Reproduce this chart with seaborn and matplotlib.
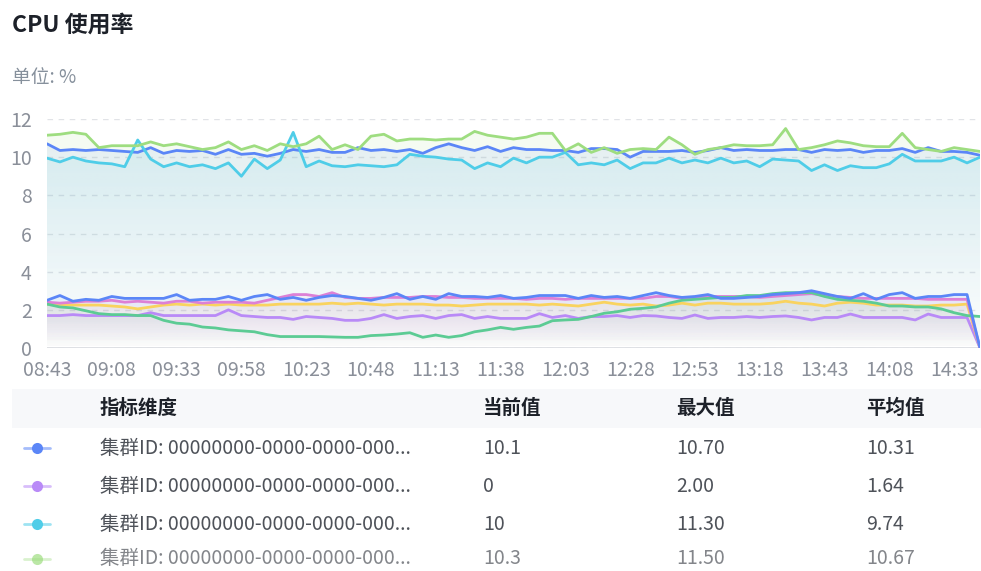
import numpy as np
import pandas as pd
import matplotlib
matplotlib.use("Agg")
import matplotlib.pyplot as plt
import matplotlib.dates as mdates
from matplotlib.colors import to_rgb
from matplotlib.patches import Polygon, Rectangle
from matplotlib.lines import Line2D
import seaborn as sns

# ---- time axis: one sample every 5 minutes ----
start_time = "2024-05-20 08:43"
n_points = 73
step = "5min"

# ---- CPU usage (%) per cluster ----
blue_a = [10.7, 10.35, 10.4, 10.35, 10.4, 10.35, 10.3, 10.25, 10.5, 10.2, 10.35, 10.3, 10.35, 10.15, 10.4, 10.15, 10.2, 10.05, 10.2, 10.4, 10.3, 10.4,
          10.25, 10.25, 10.5, 10.35, 10.4, 10.3, 10.4, 10.2, 10.5, 10.7, 10.5, 10.35, 10.55, 10.3, 10.5, 10.4, 10.4, 10.35, 10.35, 10.25, 10.45, 10.45, 10.4, 10.0, 10.3,
          10.3, 10.3, 10.35, 10.25, 10.35, 10.5, 10.35, 10.4, 10.35, 10.35, 10.4, 10.4, 10.25, 10.4, 10.35, 10.4, 10.25, 10.35, 10.35, 10.45, 10.25, 10.5, 10.3, 10.3, 10.25, 10.1]
purple_a = [1.7, 1.7, 1.75, 1.7, 1.7, 1.7, 1.7, 1.7, 1.85, 1.7, 1.7, 1.7, 1.7, 1.7, 2.0, 1.7, 1.65, 1.6, 1.6, 1.5, 1.65, 1.6,
            1.55, 1.45, 1.45, 1.55, 1.75, 1.55, 1.65, 1.7, 1.55, 1.7, 1.75, 1.55, 1.65, 1.55, 1.55, 1.55, 1.8, 1.6, 1.7, 1.55, 1.65, 1.65, 1.7, 1.6, 1.7,
            1.68, 1.6, 1.55, 1.73, 1.55, 1.6, 1.6, 1.65, 1.6, 1.65, 1.68, 1.6, 1.47, 1.6, 1.6, 1.78, 1.6, 1.6, 1.6, 1.6, 1.47, 1.78, 1.6, 1.6, 1.6, 0.0]
cyan_a = [9.95, 9.75, 10.0, 9.8, 9.7, 9.65, 9.5, 10.9, 9.9, 9.5, 9.7, 9.5, 9.6, 9.4, 9.7, 9.0, 9.9, 9.4, 9.85, 11.3, 9.5, 9.8,
          9.55, 9.5, 9.6, 9.55, 9.5, 9.6, 10.15, 10.05, 10.0, 9.9, 9.85, 9.4, 9.7, 9.5, 9.95, 9.7, 10.0, 10.0, 10.25, 9.6, 9.7, 9.6, 9.85, 9.4, 9.7,
          9.7, 9.95, 9.7, 9.85, 9.7, 9.95, 9.7, 9.8, 9.5, 9.9, 9.85, 9.8, 9.3, 9.6, 9.3, 9.55, 9.45, 9.45, 9.65, 10.15, 9.8, 9.8, 9.8, 10.0, 9.7, 10.0]
green_a = [11.15, 11.2, 11.3, 11.2, 10.5, 10.6, 10.6, 10.6, 10.8, 10.6, 10.7, 10.55, 10.4, 10.5, 10.8, 10.4, 10.6, 10.35, 10.7, 10.55, 10.7, 11.1,
           10.4, 10.65, 10.4, 11.1, 11.2, 10.85, 10.95, 10.95, 10.9, 10.95, 10.95, 11.35, 11.15, 11.05, 10.95, 11.05, 11.25, 11.25, 10.35, 10.7, 10.25, 10.5, 10.2, 10.4, 10.45,
           10.4, 11.05, 10.65, 10.15, 10.4, 10.5, 10.65, 10.6, 10.6, 10.65, 11.5, 10.4, 10.5, 10.65, 10.85, 10.75, 10.6, 10.55, 10.55, 11.25, 10.5, 10.4, 10.3, 10.5, 10.4, 10.3]
yellow_a = [2.3, 2.28, 2.25, 2.25, 2.25, 2.2, 2.15, 2.05, 2.15, 2.25, 2.3, 2.25, 2.3, 2.25, 2.3, 2.25, 2.25, 2.25, 2.3, 2.3, 2.3, 2.3,
            2.35, 2.3, 2.35, 2.3, 2.25, 2.3, 2.3, 2.3, 2.25, 2.25, 2.2, 2.25, 2.3, 2.3, 2.3, 2.3, 2.25, 2.3, 2.25, 2.2, 2.3, 2.4, 2.3, 2.25, 2.3,
            2.2, 2.25, 2.35, 2.25, 2.35, 2.35, 2.3, 2.3, 2.3, 2.35, 2.45, 2.35, 2.3, 2.2, 2.35, 2.4, 2.35, 2.25, 2.25, 2.25, 2.2, 2.2, 2.25, 2.25, 2.3, 0.0]
pink_a = [2.4, 2.35, 2.4, 2.45, 2.45, 2.5, 2.4, 2.45, 2.4, 2.35, 2.45, 2.45, 2.35, 2.4, 2.4, 2.4, 2.35, 2.5, 2.65, 2.8, 2.8, 2.7,
          2.9, 2.65, 2.6, 2.6, 2.65, 2.65, 2.65, 2.7, 2.7, 2.65, 2.65, 2.6, 2.6, 2.6, 2.6, 2.55, 2.6, 2.6, 2.55, 2.6, 2.6, 2.6, 2.6, 2.6, 2.6,
          2.7, 2.7, 2.6, 2.65, 2.7, 2.7, 2.7, 2.7, 2.65, 2.7, 2.75, 2.8, 2.85, 2.75, 2.7, 2.65, 2.6, 2.6, 2.6, 2.6, 2.6, 2.55, 2.55, 2.55, 2.55, 0.0]
teal_a = [2.3, 2.15, 2.1, 1.95, 1.8, 1.75, 1.75, 1.7, 1.7, 1.45, 1.3, 1.25, 1.1, 1.05, 0.95, 0.9, 0.85, 0.7, 0.6, 0.6, 0.6, 0.6,
          0.58, 0.56, 0.56, 0.65, 0.68, 0.73, 0.8, 0.56, 0.68, 0.56, 0.65, 0.85, 0.95, 1.08, 0.98, 1.08, 1.15, 1.43, 1.47, 1.5, 1.65, 1.82, 1.9, 2.03, 2.08,
          2.15, 2.35, 2.5, 2.55, 2.6, 2.65, 2.65, 2.75, 2.75, 2.85, 2.9, 2.9, 2.9, 2.7, 2.55, 2.5, 2.45, 2.35, 2.2, 2.2, 2.15, 2.15, 2.05, 1.85, 1.7, 1.65]
blue_b = [2.5, 2.75, 2.45, 2.55, 2.5, 2.7, 2.6, 2.6, 2.6, 2.6, 2.8, 2.5, 2.55, 2.55, 2.7, 2.5, 2.7, 2.8, 2.55, 2.65, 2.5, 2.65,
          2.75, 2.7, 2.6, 2.5, 2.65, 2.85, 2.55, 2.7, 2.55, 2.85, 2.7, 2.7, 2.65, 2.75, 2.6, 2.65, 2.75, 2.75, 2.75, 2.6, 2.75, 2.65, 2.7, 2.6, 2.75,
          2.9, 2.75, 2.65, 2.7, 2.8, 2.6, 2.6, 2.65, 2.7, 2.8, 2.85, 2.9, 3.0, 2.85, 2.7, 2.6, 2.85, 2.55, 2.8, 2.9, 2.6, 2.7, 2.7, 2.8, 2.8, 0.0]

series_names = [
    "集群ID: 00000000-0000-0000-0000-000000000001",
    "集群ID: 00000000-0000-0000-0000-000000000002",
    "集群ID: 00000000-0000-0000-0000-000000000003",
    "集群ID: 00000000-0000-0000-0000-000000000004",
    "集群ID: 00000000-0000-0000-0000-000000000005",
    "集群ID: 00000000-0000-0000-0000-000000000006",
    "集群ID: 00000000-0000-0000-0000-000000000007",
    "集群ID: 00000000-0000-0000-0000-000000000008",
]
series_values = [blue_a, purple_a, cyan_a, green_a, yellow_a, pink_a, teal_a, blue_b]
series_colors = ["#5b86f7", "#b98af7", "#4fcde8", "#9edd80",
                 "#f9d35f", "#dd80d6", "#5ccb94", "#5b86f7"]
fill_alphas = [0.11, 0.10, 0.11, 0.11, 0.10, 0.10, 0.10, 0.10]

# ---- summary table ----
table_header = ["指标维度", "当前值", "最大值", "平均值"]
row_labels = ["集群ID: 00000000-0000-0000-000..."] * 4
current_vals = ["10.1", "0", "10", "10.3"]
max_vals = ["10.70", "2.00", "11.30", "11.50"]
avg_vals = ["10.31", "1.64", "9.74", "10.67"]

sns.set_theme(style="white")
plt.rcParams["font.family"] = ["Noto Sans CJK SC", "DejaVu Sans"]

times = pd.date_range(start_time, periods=n_points, freq=step)
df = pd.concat(
    [pd.DataFrame({"time": times, "value": vals, "series": name})
     for name, vals in zip(series_names, series_values)],
    ignore_index=True,
)

W, H = 981, 571
fig = plt.figure(figsize=(W / 100, H / 100), dpi=100)
fig.patch.set_facecolor("white")


def fx(px):
    return px / W


def fy(py):
    return 1 - py / H


ax = fig.add_axes([fx(47), fy(348), (980 - 47) / W, (348 - 119) / H])
ax.set_facecolor("white")

# gradient area under each series, fading to transparent at zero
xnum = mdates.date2num(times.to_pydatetime())
for vals, color, a in zip(series_values, series_colors, fill_alphas):
    y = np.asarray(vals, dtype=float)
    verts = np.column_stack([np.r_[xnum, xnum[::-1]], np.r_[y, np.zeros_like(y)]])
    clip = Polygon(verts, closed=True, transform=ax.transData,
                   facecolor="none", edgecolor="none")
    ax.add_patch(clip)
    grad = np.zeros((256, 2, 4))
    grad[..., :3] = to_rgb(color)
    grad[..., 3] = np.linspace(0, a, 256)[:, None]
    im = ax.imshow(grad, aspect="auto", origin="lower", interpolation="bilinear",
                   extent=[xnum[0], xnum[-1], 0, y.max()], zorder=1)
    im.set_clip_path(clip)

sns.lineplot(data=df, x="time", y="value", hue="series", hue_order=series_names,
             palette=dict(zip(series_names, series_colors)), linewidth=2.0,
             legend=False, ax=ax, zorder=3)

ax.set_xlim(xnum[0], xnum[-1])
ax.set_ylim(0, 12)
ax.set_xticks(xnum[::5])
ax.set_xticklabels([t.strftime("%H:%M") for t in times[::5]])
ax.set_yticks(range(0, 13, 2))
ax.set_xlabel("")
ax.set_ylabel("")
for s in ax.spines.values():
    s.set_visible(False)
ax.yaxis.grid(True, color="#e1e3e7", linestyle=(0, (4, 4)), linewidth=1)
ax.xaxis.grid(False)
ax.set_axisbelow(True)
ax.axhline(0, color="#d9dbe0", linewidth=1.2, zorder=2)
ax.tick_params(axis="both", length=0, labelsize=14, labelcolor="#8a8f99")
ax.tick_params(axis="y", pad=11)
ax.tick_params(axis="x", pad=9)

# ---- titles ----
fig.text(fx(12), fy(25), "CPU 使用率", fontsize=16.5, fontweight="bold",
         color="#1d2129", va="center", ha="left")
fig.text(fx(12), fy(78), "单位: %", fontsize=13.5, color="#86909c",
         va="center", ha="left")

# ---- table ----
fig.patches.append(Rectangle((fx(12), fy(428)), (981 - 12) / W, (428 - 389) / H,
                             transform=fig.transFigure, facecolor="#f7f8fa",
                             edgecolor="none", zorder=0))
col_x = [100, 483, 676, 866]
for cx, txt in zip(col_x, table_header):
    fig.text(fx(cx), fy(408), txt, fontsize=14, fontweight="bold",
             color="#1d2129", va="center", ha="left")

row_y = [448, 486, 524, 559]
row_alpha = [1, 1, 1, 0.7]
for i, ry in enumerate(row_y):
    col = series_colors[i]
    al = row_alpha[i]
    fig.lines.append(Line2D([fx(24), fx(50)], [fy(ry), fy(ry)], transform=fig.transFigure,
                            color=col, alpha=0.55 * al, linewidth=2))
    fig.lines.append(Line2D([fx(37)], [fy(ry)], transform=fig.transFigure,
                            marker="o", markersize=8, color=col, alpha=al,
                            markeredgewidth=0))
    for cx, txt in zip(col_x, [row_labels[i], current_vals[i], max_vals[i], avg_vals[i]]):
        fig.text(fx(cx), fy(ry), txt, fontsize=14, color="#4e5259", alpha=al,
                 va="center", ha="left")

fig.savefig("out.png", dpi=100, facecolor="white")
